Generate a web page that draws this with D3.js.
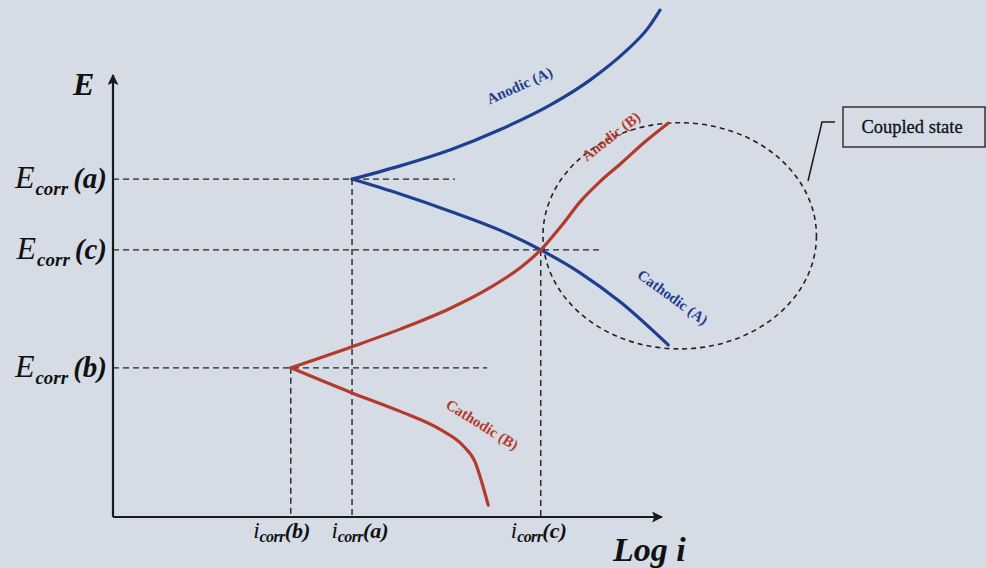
<!DOCTYPE html>
<html>
<head>
<meta charset="utf-8">
<script src="https://cdn.jsdelivr.net/npm/d3@7/dist/d3.min.js"></script>
<style>
  html, body { margin: 0; padding: 0; background: #d5dce6; }
  svg { display: block; }
</style>
</head>
<body>
<svg id="chart" width="986" height="568"></svg>
<script>
// Polarization curves (schematic): E versus log i, in arbitrary units
const anodicA   = [[4.37,7.68],[5.25,7.98],[6.16,8.34],[7.07,8.80],[7.99,9.36],[8.72,9.93],[9.36,10.57],[9.78,11.11],[10.0,11.52]];
const cathodicA = [[4.37,7.68],[5.25,7.34],[6.16,6.95],[7.07,6.52],[7.82,6.07],[8.54,5.55],[9.27,4.89],[10.15,3.91]];
const anodicB   = [[3.25,3.39],[4.37,3.87],[5.25,4.27],[6.16,4.74],[6.90,5.22],[7.44,5.66],[7.82,6.07],[8.20,6.62],[8.55,7.18],[8.90,7.62],[9.30,8.05],[9.70,8.50],[10.15,8.95]];
const cathodicB = [[3.25,3.39],[4.37,2.82],[5.25,2.40],[5.98,1.99],[6.40,1.62],[6.62,1.25],[6.74,0.80],[6.82,0.45],[6.86,0.27]];

// Corrosion potentials and currents
const ecorr = [
  {id:"a", E:7.68, dashTo:6.25},
  {id:"c", E:6.07, dashTo:8.92},
  {id:"b", E:3.39, dashTo:6.84}
];
const icorr = [
  {id:"b", i:3.25, from:3.39},
  {id:"a", i:4.37, from:7.68},
  {id:"c", i:7.82, from:6.07}
];
const curveLabels = [
  {text:"Anodic (A)",   x:7.47, y:9.70, rot:-24},
  {text:"Anodic (B)",   x:9.16, y:8.56, rot:-38},
  {text:"Cathodic (A)", x:10.18, y:4.9, rot:36},
  {text:"Cathodic (B)", x:6.70, y:2.0,  rot:32}
];
const coupled = {cx:10.36, cy:6.39, rx:2.50, ry:2.57, label:"Coupled state"};

const BLUE = "#1f3f8e", RED = "#b43a2c", INK = "#1a1a1a";
const labelColor = {"Anodic (A)":BLUE, "Cathodic (A)":BLUE, "Anodic (B)":RED, "Cathodic (B)":RED};
const svg = d3.select("#chart");

const x = d3.scaleLinear().domain([0, 10]).range([113, 660]);
const y = d3.scaleLinear().domain([0, 10]).range([517, 77]);

svg.append("rect").attr("width", 986).attr("height", 568).attr("fill", "#d5dce6");

const defs = svg.append("defs");
defs.append("marker").attr("id", "arrow").attr("viewBox", "0 0 10 10")
  .attr("refX", 9).attr("refY", 5).attr("markerWidth", 5).attr("markerHeight", 5)
  .attr("markerUnits", "strokeWidth").attr("orient", "auto")
  .append("path").attr("d", "M0,0 L10,5 L0,10 L2,5 Z").attr("fill", INK);

// Axes
const gx = svg.append("g").attr("transform", `translate(0,${y(0)})`)
  .call(d3.axisBottom(x).tickValues([]).tickSizeOuter(0));
gx.select(".domain").attr("stroke", INK).attr("stroke-width", 2.2)
  .attr("d", `M${x(0)},0H${x(10) + 2}`).attr("marker-end", "url(#arrow)");
const gy = svg.append("g").attr("transform", `translate(${x(0)},0)`)
  .call(d3.axisLeft(y).tickValues([]).tickSizeOuter(0));
gy.select(".domain").attr("stroke", INK).attr("stroke-width", 2.2)
  .attr("d", `M0,${y(0)}V${y(10) - 2}`).attr("marker-end", "url(#arrow)");

// Dashed guide lines
const dash = svg.append("g").attr("stroke", "#222").attr("stroke-width", 1.4)
  .attr("stroke-dasharray", "6,4").attr("fill", "none");
ecorr.forEach(d => dash.append("line")
  .attr("x1", x(0)).attr("x2", x(d.dashTo)).attr("y1", y(d.E)).attr("y2", y(d.E)));
icorr.forEach(d => dash.append("line")
  .attr("x1", x(d.i)).attr("x2", x(d.i)).attr("y1", y(d.from)).attr("y2", y(0)));

// Coupled-state ellipse, leader and callout box
dash.append("ellipse")
  .attr("cx", x(coupled.cx)).attr("cy", y(coupled.cy))
  .attr("rx", x(coupled.rx) - x(0)).attr("ry", y(0) - y(coupled.ry))
  .attr("stroke-width", 1.6).attr("stroke-dasharray", "5,4");
svg.append("path").attr("d", "M808,181 L822,122 L835,122")
  .attr("fill", "none").attr("stroke", INK).attr("stroke-width", 1.5);
svg.append("rect").attr("x", 843).attr("y", 107).attr("width", 142).attr("height", 40)
  .attr("fill", "none").attr("stroke", INK).attr("stroke-width", 1.3);
svg.append("text").attr("x", 912).attr("y", 133).attr("text-anchor", "middle")
  .attr("font-family", "Liberation Serif, serif").attr("font-size", 18.5).attr("fill", "#111")
  .attr("stroke", "#111").attr("stroke-width", 0.3)
  .text(coupled.label);

// Curves
const line = d3.line().x(d => x(d[0])).y(d => y(d[1])).curve(d3.curveMonotoneX);
[[anodicA, BLUE], [cathodicA, BLUE], [anodicB, RED], [cathodicB, RED]].forEach(([data, c]) =>
  svg.append("path").datum(data).attr("d", line).attr("fill", "none")
    .attr("stroke", c).attr("stroke-width", 3.2).attr("stroke-linecap", "round"));

// Curve labels
curveLabels.forEach(d => svg.append("text")
  .attr("transform", `translate(${x(d.x)},${y(d.y)}) rotate(${d.rot})`)
  .attr("text-anchor", "middle").attr("font-family", "Liberation Serif, serif")
  .attr("font-weight", "bold").attr("font-size", 15).attr("fill", labelColor[d.text])
  .text(d.text));

// Axis titles
const serif = "Liberation Serif, DejaVu Serif, serif";
svg.append("text").attr("x", 73).attr("y", 95).attr("font-family", serif)
  .attr("font-style", "italic").attr("font-weight", "bold").attr("font-size", 32)
  .attr("fill", "#111").text("E");
svg.append("text").attr("x", 613).attr("y", 561).attr("font-family", serif)
  .attr("font-style", "italic").attr("font-weight", "bold").attr("font-size", 34)
  .attr("fill", "#111").text("Log i");

// E_corr labels on the potential axis
ecorr.forEach(d => {
  const t = svg.append("text").attr("x", x(0) - 6).attr("y", y(d.E) + 9)
    .attr("text-anchor", "end").attr("font-family", serif).attr("font-style", "italic")
    .attr("fill", "#111");
  t.append("tspan").attr("font-size", 32).text("E");
  t.append("tspan").attr("font-size", 19).attr("font-weight", "bold").attr("dy", 7).attr("dx", 1).text("corr");
  t.append("tspan").attr("font-size", 29).attr("font-weight", "bold").attr("dy", -7).attr("dx", 5).text(`(${d.id})`);
});

// i_corr labels on the current axis
const icorrShift = {b:-9, a:8, c:-2};
icorr.forEach(d => {
  const t = svg.append("text").attr("x", x(d.i) + icorrShift[d.id]).attr("y", y(0) + 21)
    .attr("text-anchor", "middle").attr("font-family", serif).attr("font-style", "italic")
    .attr("fill", "#111");
  t.append("tspan").attr("font-size", 23).text("i");
  t.append("tspan").attr("font-size", 16).attr("font-weight", "bold").attr("dy", 4).attr("letter-spacing", -0.6).text("corr");
  t.append("tspan").attr("font-size", 22).attr("font-weight", "bold").attr("dy", -4).text(`(${d.id})`);
});
</script>
</body>
</html>
